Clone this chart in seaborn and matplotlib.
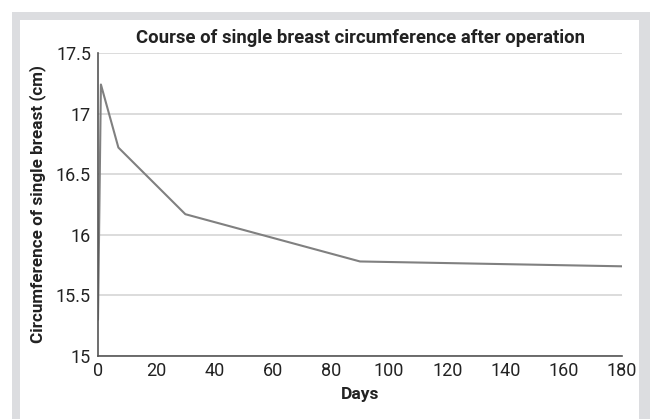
import pandas as pd
import matplotlib.pyplot as plt
import seaborn as sns
from matplotlib.patches import Rectangle

# values
days = [0, 1, 7, 30, 90, 180]
circumference = [15.3, 17.24, 16.72, 16.17, 15.78, 15.74]
y_ticks = [15, 15.5, 16, 16.5, 17, 17.5]
y_tick_labels = ['15', '15.5', '16', '16.5', '17', '17.5']
x_ticks = [0, 20, 40, 60, 80, 100, 120, 140, 160, 180]

df = pd.DataFrame({'Days': days, 'Circumference': circumference})

sns.set_style('white')
plt.rcParams['font.family'] = ['Roboto', 'DejaVu Sans']

fig = plt.figure(figsize=(6.5, 4.19), dpi=100)
W, H = 650, 419
# grey frame around the chart panel
fig.patches.append(Rectangle((12 / W, 0), (W - 12) / W, (H - 12) / H,
                             transform=fig.transFigure, facecolor='#dcdde0',
                             edgecolor='none', zorder=-10))
fig.patches.append(Rectangle((20 / W, 0), (639 - 20) / W, (H - 20) / H,
                             transform=fig.transFigure, facecolor='white',
                             edgecolor='none', zorder=-9))

ax = fig.add_axes([98 / W, 1 - 356 / H, (622 - 98) / W, (356 - 53) / H])
ax.set_zorder(5)
ax.set_facecolor('none')
sns.lineplot(data=df, x='Days', y='Circumference', ax=ax, color='#808080',
             linewidth=1.5)

ax.set_xlim(0, 180)
ax.set_ylim(15, 17.5)
ax.set_xticks(x_ticks)
ax.set_yticks(y_ticks)
ax.set_yticklabels(y_tick_labels)
ax.yaxis.grid(True, color='#d6d6d6', linewidth=1.2)
ax.set_axisbelow(True)
for s in ['top', 'right']:
    ax.spines[s].set_visible(False)
for s in ['left', 'bottom']:
    ax.spines[s].set_color('#555555')
    ax.spines[s].set_linewidth(1.2)
ax.tick_params(axis='y', length=3, color='#555555', labelsize=13, pad=2, labelcolor='#222222')
ax.tick_params(axis='x', length=0, labelsize=13, pad=4, labelcolor='#222222')

ax.set_xlabel('Days', fontsize=12.5, fontweight='bold', labelpad=5, color='#222222')
ax.set_ylabel('Circumference of single breast (cm)', fontsize=12.3, fontweight='bold',
              labelpad=7, color='#222222')
ax.set_title('Course of single breast circumference after operation', fontsize=13.3,
             fontweight='bold', pad=7, color='#222222')

fig.savefig('out.png', dpi=100)
